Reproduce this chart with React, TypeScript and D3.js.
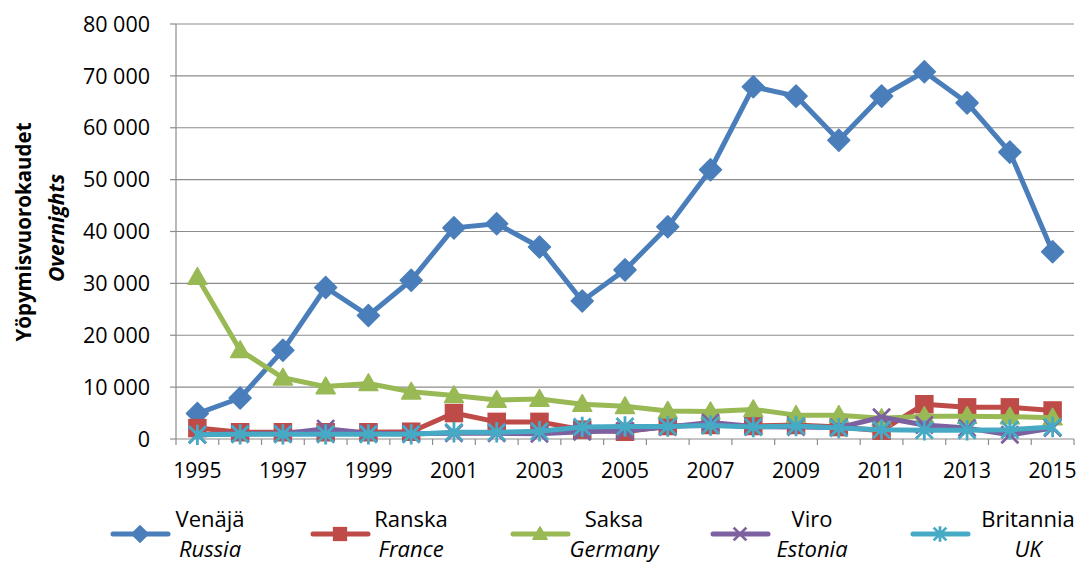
import React from "react";
import * as d3 from "d3";

const years = ["1995","1996","1997","1998","1999","2000","2001","2002","2003","2004","2005","2006","2007","2008","2009","2010","2011","2012","2013","2014","2015"];
const xTickLabels = ["1995","1997","1999","2001","2003","2005","2007","2009","2011","2013","2015"];
const yTicks = [0, 10000, 20000, 30000, 40000, 50000, 60000, 70000, 80000];

const russia = [4900, 7900, 17100, 29200, 23800, 30600, 40700, 41500, 37000, 26600, 32600, 40900, 51900, 67900, 66100, 57600, 66100, 70800, 64800, 55300, 36100];
const france = [2100, 1300, 1300, 1300, 1300, 1400, 5000, 3300, 3300, 1800, 1400, 2500, 2700, 2500, 2700, 2300, 1600, 6700, 6100, 6100, 5500];
const germany = [31200, 17100, 11800, 10100, 10700, 9100, 8400, 7500, 7700, 6700, 6300, 5400, 5300, 5700, 4600, 4600, 4000, 4400, 4400, 4300, 4100];
const estonia = [800, 1000, 1000, 2000, 1100, 1000, 1100, 1100, 1000, 1400, 1600, 2300, 3200, 2400, 2300, 2200, 4200, 2700, 2100, 800, 2100];
const uk = [800, 900, 900, 900, 900, 900, 1300, 1300, 1500, 2300, 2400, 2400, 2600, 2300, 2500, 2100, 1800, 1700, 1700, 1800, 2300];

type Series = { fi: string; en: string; values: number[]; color: string; marker: string };
const seriesList: Series[] = [
  { fi: "Venäjä", en: "Russia", values: russia, color: "#4A7EBB", marker: "diamond" },
  { fi: "Ranska", en: "France", values: france, color: "#BE4B48", marker: "square" },
  { fi: "Saksa", en: "Germany", values: germany, color: "#98B954", marker: "triangle" },
  { fi: "Viro", en: "Estonia", values: estonia, color: "#7D60A0", marker: "x" },
  { fi: "Britannia", en: "UK", values: uk, color: "#46AAC5", marker: "star" },
];

const FONT = "'Open Sans', 'Noto Sans', sans-serif";
const W = 1085, H = 565;
const left = 176, right = 1074, top = 24, bottom = 439;
const legendTextX = [210, 411, 614, 812, 1028];

function Marker({ type, x, y, color, s = 1 }: { type: string; x: number; y: number; color: string; s?: number }) {
  if (type === "diamond") {
    const r = 11 * s;
    return <path d={`M${x},${y - r}L${x + r},${y}L${x},${y + r}L${x - r},${y}Z`} fill={color} stroke={color} strokeWidth={1.5} strokeLinejoin="round" />;
  }
  if (type === "square") {
    const r = 8.5 * s;
    return <rect x={x - r} y={y - r} width={2 * r} height={2 * r} fill={color} stroke={color} strokeWidth={1.5} />;
  }
  if (type === "triangle") {
    const r = 9.5 * s;
    return <path d={`M${x},${y - r}L${x + r},${y + r * 0.75}L${x - r},${y + r * 0.75}Z`} fill={color} stroke={color} strokeWidth={1.5} strokeLinejoin="round" />;
  }
  if (type === "x") {
    const r = 8.5 * s;
    return <path d={`M${x - r},${y - r}L${x + r},${y + r}M${x - r},${y + r}L${x + r},${y - r}`} stroke={color} strokeWidth={2.8} />;
  }
  const r = 8.5 * s;
  return <path d={`M${x - r},${y - r}L${x + r},${y + r}M${x - r},${y + r}L${x + r},${y - r}M${x},${y - r * 1.2}L${x},${y + r * 1.2}`} stroke={color} strokeWidth={2.8} />;
}

export default function App() {
  const x = d3.scaleBand<string>().domain(years).range([left, right]).paddingInner(0).paddingOuter(0);
  const y = d3.scaleLinear().domain([0, 80000]).range([bottom, top]);
  const cx = (yr: string) => (x(yr) as number) + x.bandwidth() / 2;
  const fmt = (v: number) => (v === 0 ? "0" : d3.format(",")(v).replace(/,/g, " "));
  const line = d3.line<number>().x((_, i) => cx(years[i])).y((v) => y(v));
  const boundaries = years.map((yr) => x(yr) as number).concat([right]);

  return (
    <svg width={W} height={H} style={{ position: "absolute", left: 0, top: 0, background: "#fff" }} fontFamily={FONT}>
      {yTicks.map((t) => (
        <g key={t}>
          {t > 0 && <line x1={left} x2={right} y1={y(t)} y2={y(t)} stroke="#8C8C8C" strokeWidth={1.2} />}
          <line x1={left - 6} x2={left} y1={y(t)} y2={y(t)} stroke="#8C8C8C" strokeWidth={1.2} />
          <text x={150} y={y(t)} dy="0.36em" textAnchor="end" fontSize={21.5} fill="#000" wordSpacing={0}>{fmt(t)}</text>
        </g>
      ))}
      <line x1={left} x2={left} y1={top} y2={bottom} stroke="#8C8C8C" strokeWidth={1.2} />
      <line x1={left} x2={right} y1={bottom} y2={bottom} stroke="#8C8C8C" strokeWidth={1.2} />
      {boundaries.map((b, i) => (
        <line key={i} x1={b} x2={b} y1={bottom} y2={bottom + 6} stroke="#8C8C8C" strokeWidth={1.2} />
      ))}
      {xTickLabels.map((t) => (
        <text key={t} x={cx(t)} y={478} textAnchor="middle" fontSize={21} fill="#000">{t}</text>
      ))}
      <g transform="translate(24,232) rotate(-90)">
        <text x={0} y={0} dy="0.35em" textAnchor="middle" fontSize={20.5} fontWeight="bold" fill="#000">Yöpymisvuorokaudet</text>
      </g>
      <g transform="translate(57,228) rotate(-90)">
        <text x={0} y={0} dy="0.35em" textAnchor="middle" fontSize={21} fontWeight="bold" fontStyle="italic" fill="#000">Overnights</text>
      </g>
      {seriesList.map((s) => (
        <g key={s.en}>
          <path d={line(s.values) || ""} fill="none" stroke={s.color} strokeWidth={5} strokeLinejoin="round" strokeLinecap="round" />
          {s.values.map((v, i) => (
            <Marker key={i} type={s.marker} x={cx(years[i])} y={y(v)} color={s.color} />
          ))}
        </g>
      ))}
      {seriesList.map((s, i) => {
        const lx = 113 + 200 * i;
        return (
          <g key={"lg" + s.en}>
            <line x1={lx} x2={lx + 55} y1={534} y2={534} stroke={s.color} strokeWidth={5} strokeLinecap="round" />
            <Marker type={s.marker} x={lx + 27} y={534} color={s.color} s={0.75} />
            <text x={legendTextX[i]} y={527} textAnchor="middle" fontSize={22} fill="#000">{s.fi}</text>
            <text x={legendTextX[i]} y={557} textAnchor="middle" fontSize={22} fontStyle="italic" fill="#000">{s.en}</text>
          </g>
        );
      })}
    </svg>
  );
}
